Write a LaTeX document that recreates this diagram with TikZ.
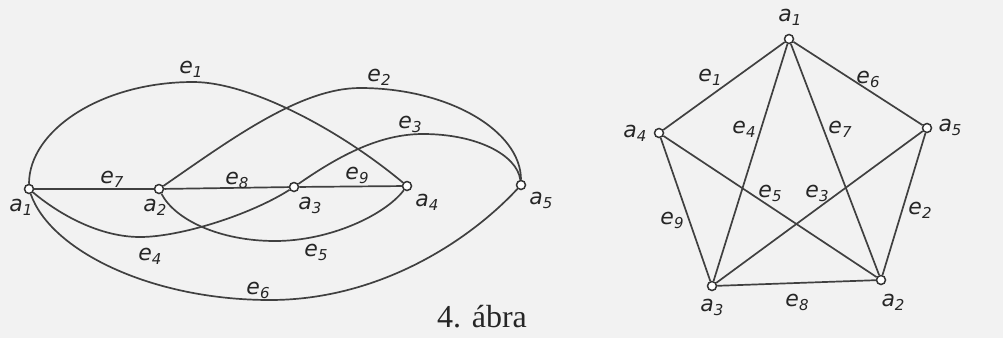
\documentclass[tikz,border=0pt]{standalone}
\usepackage{fontspec}
\setmainfont{Liberation Serif}
\newfontfamily\labfont{DejaVu Sans}
\usepackage{tikz}
\usetikzlibrary{calc}

\newcommand{\lab}[2]{\textit{#1}\raisebox{-4pt}{\fontsize{15}{15}\selectfont\textit{#2}}}

\begin{document}
\begin{tikzpicture}[x=1pt, y=-1pt,
	vertex/.style={circle, draw=black!80, fill=white, inner sep=0pt, minimum size=9pt, line width=1.5pt},
	edge/.style={draw=black!75, line width=1.7pt},
	tag/.style={font=\labfont\fontsize{22}{22}\selectfont, text=black!85, inner sep=0pt}]
	
	% Paper
	\fill[black!5] (0,0) rectangle (1003,338);
	\useasboundingbox (0,0) rectangle (1003,338);
	
	% Left graph: vertices on one line
	\node[vertex] (l1) at (29,189) {};
	\node[vertex] (l2) at (159,189) {};
	\node[vertex] (l3) at (294,187) {};
	\node[vertex] (l4) at (407,186) {};
	\node[vertex] (l5) at (521,185) {};
	
	% straight edges
	\draw[edge] (l1) -- (l2);
	\draw[edge] (l2) -- (l3);
	\draw[edge] (l3) -- (l4);
	
	% upper arcs
	\draw[edge] (l1) .. controls (29,130) and (102,82) .. (193,82)
		.. controls (250,82) and (340,130) .. (l4);
	\draw[edge] (l2) .. controls (230,140) and (300,88) .. (360,88)
		.. controls (449,88) and (521,131) .. (l5);
	\draw[edge] (l3) .. controls (340,155) and (380,134) .. (423,134)
		.. controls (477,134) and (517,155) .. (l5);
	
	% lower arcs
	\draw[edge] (l1) .. controls (60,215) and (100,237) .. (140,237)
		.. controls (180,237) and (250,215) .. (l3);
	\draw[edge] (l2) .. controls (175,220) and (220,241) .. (275,241)
		.. controls (330,241) and (385,215) .. (l4);
	\draw[edge] (l1) .. controls (50,250) and (150,300) .. (270,300)
		.. controls (380,300) and (470,240) .. (l5);
	
	% labels
	\node[tag] (la1) at (21,207) {\lab{a}{1}};
	\node[tag] (la2) at (155,207) {\lab{a}{2}};
	\node[tag] (la3) at (310,205) {\lab{a}{3}};
	\node[tag] (la4) at (427,202) {\lab{a}{4}};
	\node[tag] (la5) at (541,200) {\lab{a}{5}};
	\node[tag] (le1) at (191,69) {\lab{e}{1}};
	\node[tag] (le2) at (379,77) {\lab{e}{2}};
	\node[tag] (le3) at (410,124) {\lab{e}{3}};
	\node[tag] (le4) at (150,256) {\lab{e}{4}};
	\node[tag] (le5) at (316,252) {\lab{e}{5}};
	\node[tag] (le6) at (258,290) {\lab{e}{6}};
	\node[tag] (le7) at (112,179) {\lab{e}{7}};
	\node[tag] (le8) at (237,180) {\lab{e}{8}};
	\node[tag] (le9) at (357,175) {\lab{e}{9}};
	
	% Right graph: pentagon with its diagonals
	\node[vertex] (r1) at (789,39) {};
	\node[vertex] (r2) at (881,280) {};
	\node[vertex] (r3) at (712,286) {};
	\node[vertex] (r4) at (659,133) {};
	\node[vertex] (r5) at (927,128) {};
	
	\draw[edge] (r1) -- (r4);
	\draw[edge] (r1) -- (r5);
	\draw[edge] (r1) -- (r3);
	\draw[edge] (r1) -- (r2);
	\draw[edge] (r4) -- (r3);
	\draw[edge] (r4) -- (r2);
	\draw[edge] (r5) -- (r3);
	\draw[edge] (r5) -- (r2);
	\draw[edge] (r3) -- (r2);
	
	\node[tag] (ra1) at (790,17) {\lab{a}{1}};
	\node[tag] (ra2) at (893,302) {\lab{a}{2}};
	\node[tag] (ra3) at (712,307) {\lab{a}{3}};
	\node[tag] (ra4) at (635,133) {\lab{a}{4}};
	\node[tag] (ra5) at (950,127) {\lab{a}{5}};
	\node[tag] (re1) at (710,77) {\lab{e}{1}};
	\node[tag] (re2) at (920,210) {\lab{e}{2}};
	\node[tag] (re3) at (817,193) {\lab{e}{3}};
	\node[tag] (re4) at (744,129) {\lab{e}{4}};
	\node[tag] (re5) at (770,193) {\lab{e}{5}};
	\node[tag] (re6) at (868,79) {\lab{e}{6}};
	\node[tag] (re7) at (840,129) {\lab{e}{7}};
	\node[tag] (re8) at (797,302) {\lab{e}{8}};
	\node[tag] (re9) at (672,220) {\lab{e}{9}};
	
	% Caption
	\node[anchor=base, font=\fontsize{32}{32}\selectfont, text=black!85, inner sep=0pt] (cap) at (482,327) {4. ábra};
\end{tikzpicture}
\end{document}
